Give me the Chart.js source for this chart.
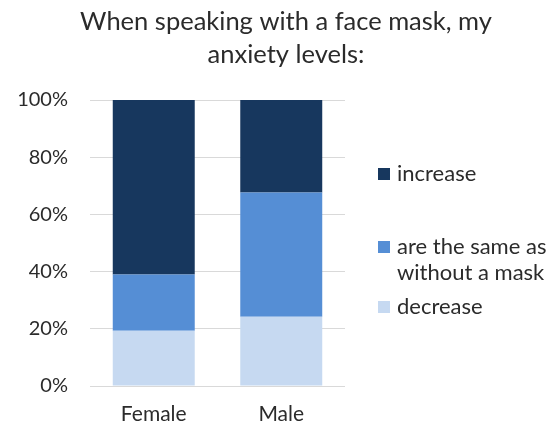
<!DOCTYPE html>
<html>
<head>
<meta charset="utf-8">
<script src="https://cdn.jsdelivr.net/npm/chart.js@4/dist/chart.umd.min.js"></script>
<style>
  html, body { margin: 0; padding: 0; background: #fff; }
</style>
</head>
<body>
<canvas id="maskChart" width="560" height="427"></canvas>
<script>
// survey answers, share of respondents in %
const groups = ['Female', 'Male'];
const decrease = [19.3, 24.2];
const same = [19.7, 43.5];
const increase = [61.0, 32.3];
const seriesNames = ['decrease', 'are the same as without a mask', 'increase'];
const seriesColors = ['#C6D9F1', '#558ED5', '#17375E'];
const yTicks = [0, 20, 40, 60, 80, 100];

const FONT = 'Lato, "Open Sans", sans-serif';
const TEXT = '#2b2b2b';

// legend drawn in its own layout box to the right of the plot
const legendRows = [74, 147, 207]; // item offsets from the top of the plot
function wrapText(ctx, text, maxWidth) {
  const words = text.split(' ');
  const lines = [];
  let line = '';
  words.forEach(w => {
    const test = line ? line + ' ' + w : w;
    if (line && ctx.measureText(test).width > maxWidth) {
      lines.push(line);
      line = w;
    } else {
      line = test;
    }
  });
  lines.push(line);
  return lines;
}

const sideLegend = {
  id: 'sideLegend',
  beforeInit(chart) {
    const box = {
      position: 'right', weight: 0, fullSize: false, options: {},
      left: 0, top: 0, right: 0, bottom: 0, width: 0, height: 0,
      isHorizontal() { return false; },
      update(maxWidth, maxHeight) {
        this.width = 215;
        this.height = maxHeight;
      },
      draw() {
        const ctx = chart.ctx;
        const top = chart.chartArea.top;
        ctx.save();
        ctx.font = '22px ' + FONT;
        ctx.textBaseline = 'middle';
        chart.data.datasets.slice().reverse().forEach((ds, i) => {
          const y = top + legendRows[i];
          ctx.fillStyle = ds.backgroundColor;
          ctx.fillRect(this.left + 33, y - 6, 12, 12);
          ctx.fillStyle = TEXT;
          wrapText(ctx, ds.label, 162).forEach((t, j) => {
            ctx.fillText(t, this.left + 52, y + j * 26);
          });
        });
        ctx.restore();
      }
    };
    Chart.layouts.addBox(chart, box);
  }
};

new Chart(document.getElementById('maskChart'), {
  type: 'bar',
  data: {
    labels: groups,
    datasets: [decrease, same, increase].map((values, i) => ({
      label: seriesNames[i],
      data: values,
      backgroundColor: seriesColors[i],
      borderWidth: 0,
      barPercentage: 1,
      categoryPercentage: 0.643
    }))
  },
  options: {
    responsive: false,
    animation: false,
    devicePixelRatio: 1,
    layout: { padding: { left: 12, right: 0, top: 0, bottom: 0 } },
    plugins: {
      legend: { display: false },
      tooltip: { enabled: false },
      title: {
        display: true,
        text: ['When speaking with a face mask, my', 'anxiety levels:'],
        color: TEXT,
        font: { family: FONT, size: 25.5, weight: 'normal', lineHeight: 33 / 25.5 },
        padding: { top: 5, bottom: 29 }
      }
    },
    scales: {
      x: {
        stacked: true,
        grid: { display: false },
        border: { display: false },
        ticks: { color: TEXT, font: { family: FONT, size: 21 }, padding: 8 },
        afterFit(scale) { scale.height = 41; }
      },
      y: {
        stacked: true,
        min: 0,
        max: 100,
        afterBuildTicks(scale) { scale.ticks = yTicks.map(v => ({ value: v })); },
        grid: { color: '#D9D9D9', lineWidth: 1, drawTicks: false },
        border: { display: false },
        ticks: {
          color: TEXT,
          font: { family: FONT, size: 20 },
          padding: 22,
          callback: v => v + '%'
        },
        afterFit(scale) { scale.width = 78; }
      }
    }
  },
  plugins: [sideLegend]
});
</script>
</body>
</html>
